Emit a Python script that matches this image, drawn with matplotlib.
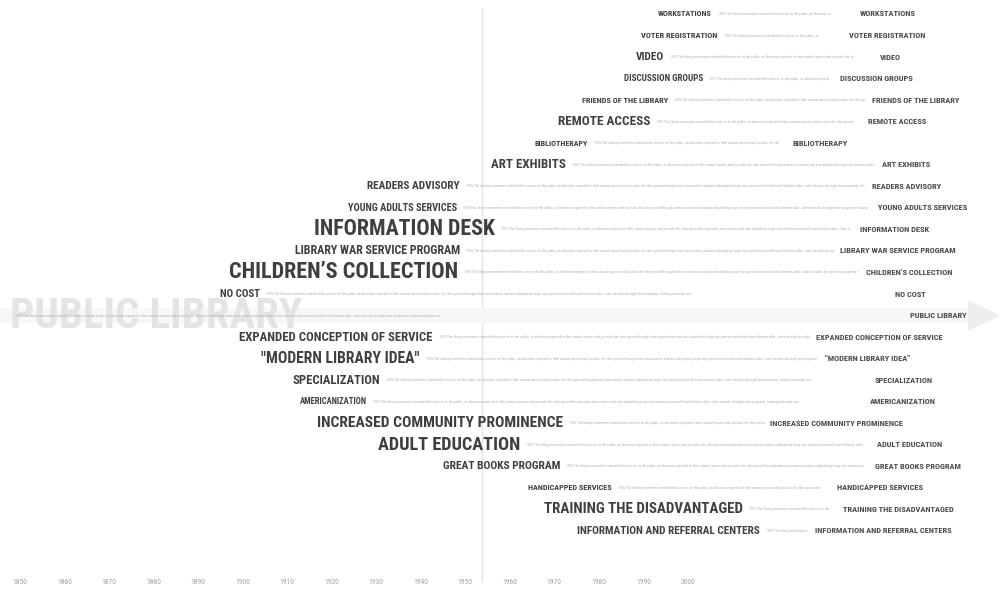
import matplotlib
matplotlib.use("Agg")
import matplotlib.pyplot as plt
from matplotlib import font_manager
from matplotlib.patches import Polygon, Rectangle

# ---------------- data ----------------
labels = [
    "WORKSTATIONS", "VOTER REGISTRATION", "VIDEO", "DISCUSSION GROUPS",
    "FRIENDS OF THE LIBRARY", "REMOTE ACCESS", "BIBLIOTHERAPY", "ART EXHIBITS",
    "READERS ADVISORY", "YOUNG ADULTS SERVICES", "INFORMATION DESK",
    "LIBRARY WAR SERVICE PROGRAM", "CHILDREN\u2019S COLLECTION", "NO COST",
    "PUBLIC LIBRARY", "EXPANDED CONCEPTION OF SERVICE", "\"MODERN LIBRARY IDEA\"",
    "SPECIALIZATION", "AMERICANIZATION", "INCREASED COMMUNITY PROMINENCE",
    "ADULT EDUCATION", "GREAT BOOKS PROGRAM", "HANDICAPPED SERVICES",
    "TRAINING THE DISADVANTAGED", "INFORMATION AND REFERRAL CENTERS",
]
# timeline positions (years) of each row
label_start = [1993.3, 1989.4, 1988.3, 1985.6, 1976.2, 1970.8, 1965.6, 1956.0,
               1928.1, 1923.4, 1916.2, 1911.7, 1897.2, 1894.9, 1847.7, 1899.4,
               1904.3, 1911.1, 1912.9, 1916.9, 1930.4, 1944.8, 1964.1, 1968.1,
               1975.3]
label_end = [2005.4, 2006.7, 1994.6, 2003.4, 1995.5, 1991.5, 1977.5, 1972.6,
             1948.8, 1948.1, 1956.7, 1948.8, 1948.4, 1903.9, 1912.9, 1942.7,
             1939.8, 1930.8, 1927.9, 1971.9, 1962.3, 1971.3, 1982.9, 2012.4,
             2016.2]
desc_end = [2032.3, 2029.7, 2037.5, 2031.9, 2039.8, 2037.5, 2020.7, 2042.0,
            2039.8, 2040.9, 2036.4, 2033.0, 2038.6, 2044.2, 2043.1, 2027.9,
            2029.2, 2032.3, 2037.5, 2017.5, 2039.8, 2039.8, 2029.7, 2031.9,
            2027.0]
right_start = [2038.6, 2036.2, 2043.1, 2034.1, 2041.3, 2040.4, 2023.4, 2043.6,
               2041.3, 2042.7, 2038.6, 2034.1, 2040.0, 2046.5, 2049.9, 2028.8,
               2030.8, 2042.0, 2040.9, 2018.4, 2042.4, 2042.0, 2033.5, 2034.8,
               2028.5]
public_desc_start = 1848.9
divider_year = 1953.7
tick_years = list(range(1850, 2001, 10))

description = ("1876 The library movement extended this service to the public, "
               "as librarians reported in their annual reports and journals; "
               "the idea spread through state associations and was adopted "
               "by large city systems and small town libraries alike. "
               "Later decades brought new programs, funding and wider use. ")

# ---------------- layout ----------------
W, H, DPI = 10.0, 5.9, 100
PX_PER_YEAR = 4.453
X0 = 1850 - 20 / PX_PER_YEAR
ROW0_PX, ROW_PX = 14.0, 21.54

available = {f.name for f in font_manager.fontManager.ttflist}
cond = None
for cand in ["Liberation Sans Narrow", "DejaVu Sans Condensed", "Roboto Condensed",
             "Open Sans Condensed", "Roboto", "DejaVu Sans"]:
    if cand in available:
        cond = cand
        break
FAM = [cond, "DejaVu Sans"]

fig = plt.figure(figsize=(W, H), dpi=DPI)
fig.patch.set_facecolor("white")
ax = fig.add_axes([0, 0, 1, 1])
ax.set_xlim(X0, X0 + 1000 / PX_PER_YEAR)
ax.set_ylim((590 - ROW0_PX) / ROW_PX, -ROW0_PX / ROW_PX)
ax.axis("off")
renderer = fig.canvas.get_renderer()

def fit_size(t, target_px, base=10.0):
    t.set_fontsize(base)
    w = t.get_window_extent(renderer).width
    t.set_fontsize(base * target_px / max(w, 1e-6))

def fill_text(t, target_px):
    lo, hi = 1, len(description)
    while lo < hi:
        mid = (lo + hi + 1) // 2
        t.set_text(description[:mid].rstrip())
        if t.get_window_extent(renderer).width <= target_px:
            lo = mid
        else:
            hi = mid - 1
    t.set_text(description[:lo].rstrip())

# divider line
ax.plot([divider_year, divider_year], [-0.3, 26.3], color="#e4e4e4", lw=1.0, zorder=0)

# faint arrow behind the public library row
pl = labels.index("PUBLIC LIBRARY")
band_h = 0.36
ax.add_patch(Rectangle((X0, pl - band_h), (970 / PX_PER_YEAR), 2 * band_h,
                       facecolor="#f7f7f7", edgecolor="none", zorder=0))
ax.add_patch(Polygon([[X0 + 968 / PX_PER_YEAR, pl - 0.72],
                      [X0 + 1000 / PX_PER_YEAR, pl],
                      [X0 + 968 / PX_PER_YEAR, pl + 0.72]],
                     closed=True, facecolor="#eeeeee", edgecolor="none", zorder=0))

for i, lab in enumerate(labels):
    if lab == "PUBLIC LIBRARY":
        big = ax.text(label_start[i], i + 0.05, lab, ha="left", va="center",
                      family=FAM, weight="bold", color="#e4e4e4", zorder=1)
        fit_size(big, (label_end[i] - label_start[i]) * PX_PER_YEAR)
        d_start = public_desc_start
    else:
        t = ax.text(label_end[i], i, lab, ha="right", va="center",
                    family=FAM, weight="bold", color="#3f3f3f", zorder=3)
        fit_size(t, (label_end[i] - label_start[i]) * PX_PER_YEAR)
        d_start = label_end[i] + 6 / PX_PER_YEAR
    d = ax.text(d_start, i, "", ha="left", va="center", family=FAM,
                fontsize=2.6, color="#b0b0b0", zorder=2)
    fill_text(d, (desc_end[i] - d_start) * PX_PER_YEAR)
    ax.text(right_start[i], i, lab, ha="left", va="center", family=FAM,
            weight="bold", fontsize=6.0, color="#4a4a4a", zorder=3)

tick_row = (582 - ROW0_PX) / ROW_PX
for yr in tick_years:
    ax.text(yr, tick_row, str(yr), ha="center", va="center", family=FAM,
            fontsize=5.5, color="#a4a4a4")

fig.savefig("out.png", dpi=DPI, facecolor="white")
